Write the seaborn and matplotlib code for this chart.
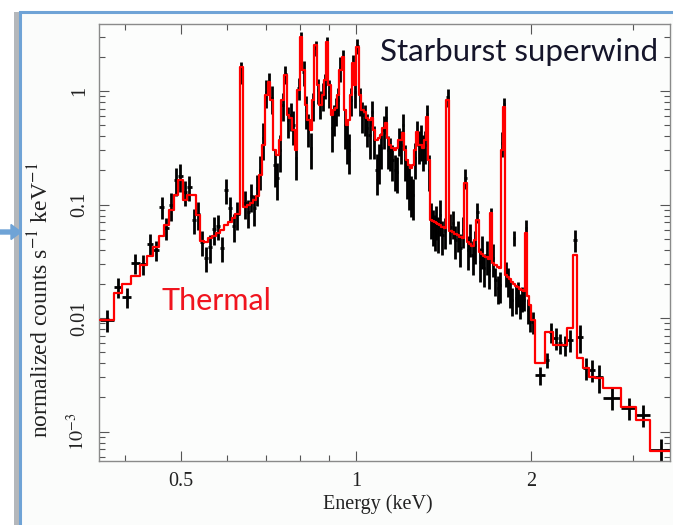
import numpy as np
import seaborn as sns
import matplotlib
matplotlib.use("Agg")
import matplotlib.pyplot as plt
from matplotlib.ticker import FixedLocator, FixedFormatter, NullFormatter, LogLocator
from matplotlib.patches import Rectangle, FancyArrow

# Spectral bins (keV edges), folded model and measured spectrum
energy_edges = [
    0.362, 0.383, 0.396, 0.410, 0.424, 0.436, 0.447, 0.458, 0.467, 0.476,
    0.485, 0.494, 0.503, 0.512, 0.521, 0.530, 0.539, 0.548, 0.557, 0.566,
    0.575, 0.584, 0.593, 0.602, 0.611, 0.620, 0.630, 0.640,
    0.648, 0.656, 0.664, 0.672, 0.680, 0.688, 0.696, 0.704, 0.712, 0.720,
    0.728, 0.736, 0.744, 0.752, 0.760, 0.768, 0.776, 0.784, 0.792, 0.800,
    0.808, 0.816, 0.824, 0.832, 0.840, 0.848, 0.856, 0.864, 0.872, 0.880,
    0.888, 0.896, 0.904, 0.912, 0.920, 0.928, 0.936, 0.944, 0.952, 0.960,
    0.968, 0.976, 0.984, 0.992, 1.000,
    1.01, 1.02, 1.03, 1.04, 1.05, 1.06, 1.07, 1.08, 1.09, 1.10,
    1.11, 1.12, 1.13, 1.14, 1.15, 1.16, 1.17, 1.18, 1.19, 1.20,
    1.21, 1.22, 1.23, 1.24, 1.25, 1.26, 1.27, 1.28, 1.29, 1.30,
    1.31, 1.32, 1.33, 1.34, 1.35, 1.36, 1.37, 1.38, 1.39, 1.40,
    1.415, 1.430, 1.445, 1.460, 1.475, 1.490, 1.505, 1.520, 1.535, 1.550,
    1.565, 1.580, 1.595, 1.610, 1.625, 1.640, 1.655, 1.670, 1.685, 1.700,
    1.715, 1.730, 1.745, 1.760, 1.775, 1.790, 1.805, 1.820, 1.835, 1.850,
    1.865, 1.880, 1.895, 1.910, 1.925, 1.940, 1.955, 1.970, 1.985, 2.000,
    2.030, 2.115, 2.150, 2.185, 2.225, 2.265, 2.305, 2.360, 2.400, 2.460,
    2.520, 2.580, 2.660, 2.860, 3.030, 3.200, 3.500,
]

model_flux = [
    # 0.36-0.64 keV
    0.00960, 0.0166, 0.0199, 0.0234, 0.0293, 0.0352, 0.0422, 0.0528, 0.0660, 0.0894,
    0.121, 0.164, 0.110, 0.121, 0.121, 0.0808, 0.0477, 0.0467, 0.0507, 0.0528,
    0.0561, 0.0596, 0.0660, 0.0701, 0.0760, 0.0825, 1.63,
    # 0.64-0.80 keV
    0.0951, 0.0990, 0.1031, 0.110, 0.1186, 0.182, 0.334, 0.922, 1.200, 0.833,
    0.302, 0.273, 0.370, 0.833, 1.383, 0.614, 0.578, 0.453, 0.302, 1.020,
    # 0.80-1.00 keV
    2.990, 1.531, 0.753, 0.555, 0.453, 0.833, 2.543, 1.129, 0.753, 0.922,
    1.250, 2.702, 1.129, 0.614, 0.680, 0.708, 0.922, 1.531, 1.994, 0.680,
    0.502, 0.555, 0.922, 1.765, 1.129,
    # 1.00-1.40 keV
    2.442, 0.922, 0.680, 0.653, 0.578, 0.555, 0.578, 0.453, 0.370, 0.385,
    0.410, 0.472, 0.523, 0.385, 0.334, 0.3145, 0.302, 0.3145, 0.370, 0.370,
    0.427, 0.302, 0.247, 0.223, 0.2093, 0.223, 0.302, 0.435, 0.334, 0.334,
    0.3145, 0.370, 0.590, 0.247, 0.0730, 0.0715, 0.0701, 0.0687, 0.0674, 0.0660,
    # 1.40-2.00 keV
    0.0634, 0.0620, 0.833, 0.0590, 0.0572, 0.0550, 0.0539, 0.0517, 0.0507, 0.155,
    0.0468, 0.0449, 0.0431, 0.0487, 0.0730, 0.0381, 0.0366, 0.0352, 0.0345, 0.0331,
    0.0841, 0.0305, 0.0293, 0.0281, 0.0276, 0.302, 0.723, 0.0240, 0.0230, 0.0220,
    0.0207, 0.0199, 0.0191, 0.0187, 0.0180, 0.0176, 0.0172, 0.0561, 0.0156, 0.0130,
    # 2.0-3.5 keV
    0.00960, 0.00401, 0.00753, 0.00753, 0.00578, 0.00578, 0.00578, 0.00816, 0.0359, 0.00444,
    0.00363, 0.00302, 0.00296, 0.00242, 0.00164, 0.00126, 0.000673,
]

data_flux = [
    0.00960, 0.0187, 0.0153, 0.0305, 0.0299, 0.0449, 0.0397, 0.0950, 0.0621, 0.0990,
    0.164, 0.178, 0.129, 0.143, 0.0730, 0.0825, 0.0467, 0.0338, 0.0422, 0.0608,
    0.0646, 0.0414, 0.134, 0.0931, 0.0646, 0.0825, 1.47,
    0.1031, 0.0859, 0.1186, 0.0931, 0.1395, 0.201, 0.385, 0.980, 1.200, 0.867,
    0.223, 0.171, 0.302, 0.753, 1.411, 0.555, 0.614, 0.502, 0.257, 1.062,
    2.814, 1.470, 0.680, 0.472, 0.3145, 0.753, 2.392, 1.020, 0.784, 0.922,
    1.129, 2.543, 0.980, 0.472, 0.578, 0.680, 0.833, 1.594, 1.994, 0.502,
    0.370, 0.302, 0.833, 1.765, 0.980,
    2.492, 0.833, 0.614, 0.578, 0.472, 0.410, 0.653, 0.370, 0.201, 0.247,
    0.3145, 0.453, 0.578, 0.302, 0.290, 0.247, 0.201, 0.193, 0.370, 0.334,
    0.502, 0.247, 0.182, 0.149, 0.1287, 0.121, 0.257, 0.435, 0.334, 0.370,
    0.302, 0.334, 0.627, 0.201, 0.0760, 0.0660, 0.0596, 0.0730, 0.0572, 0.0808,
    0.0539, 0.0580, 0.885, 0.0640, 0.0687, 0.0487, 0.0550, 0.0413, 0.0596, 0.171,
    0.0397, 0.0507, 0.0359, 0.0440, 0.0859, 0.0311, 0.0397, 0.0276, 0.0359, 0.0265,
    0.0792, 0.0337, 0.0216, 0.0183, 0.0195, 0.348, 0.768, 0.0250, 0.0215, 0.0169,
    0.0144, 0.0507, 0.0150, 0.0166, 0.0130, 0.0150, 0.0144, 0.0621, 0.0117, 0.0100,
    0.00922, 0.00315, 0.00427, 0.00753, 0.00666, 0.00602, 0.00578, 0.00640, 0.0487, 0.00680,
    0.00363, 0.00348, 0.00302, 0.00197, 0.00161, 0.00140, 0.000687,
]

data_rel_err = [
    0.22, 0.20, 0.20, 0.20, 0.20, 0.22, 0.20, 0.22, 0.22, 0.28,
    0.28, 0.28, 0.25, 0.25, 0.25, 0.28, 0.25, 0.25, 0.28, 0.28,
    0.25, 0.25, 0.25, 0.25, 0.28, 0.28, 0.22,
    0.28, 0.28, 0.28, 0.30, 0.30, 0.33, 0.36, 0.28, 0.20, 0.28,
    0.36, 0.36, 0.36, 0.28, 0.18, 0.30, 0.28, 0.33, 0.36, 0.22,
    0.18, 0.25, 0.32, 0.32, 0.35, 0.28, 0.15, 0.25, 0.28, 0.27,
    0.25, 0.18, 0.27, 0.38, 0.30, 0.28, 0.28, 0.25, 0.15, 0.38,
    0.38, 0.38, 0.28, 0.18, 0.27,
    0.15, 0.27, 0.30, 0.30, 0.32, 0.38, 0.25, 0.32, 0.40, 0.38,
    0.35, 0.32, 0.28, 0.32, 0.32, 0.35, 0.35, 0.35, 0.28, 0.32,
    0.25, 0.35, 0.38, 0.40, 0.40, 0.40, 0.35, 0.25, 0.32, 0.35,
    0.35, 0.32, 0.20, 0.35, 0.35, 0.35, 0.35, 0.33, 0.35, 0.35,
    0.33, 0.30, 0.18, 0.30, 0.27, 0.32, 0.30, 0.32, 0.30, 0.20,
    0.33, 0.32, 0.33, 0.32, 0.20, 0.33, 0.32, 0.32, 0.33, 0.32,
    0.18, 0.32, 0.28, 0.28, 0.30, 0.25, 0.13, 0.25, 0.28, 0.28,
    0.27, 0.15, 0.27, 0.25, 0.25, 0.25, 0.20, 0.18, 0.25, 0.25,
    0.22, 0.18, 0.15, 0.20, 0.22, 0.20, 0.20, 0.22, 0.22, 0.28,
    0.22, 0.22, 0.28, 0.22, 0.22, 0.22, 0.25,
]

x_major = [0.5, 1, 2]
x_major_labels = ["0.5", "1", "2"]
x_minor = [0.4, 0.6, 0.7, 0.8, 0.9, 3]
y_major = [1e-3, 1e-2, 0.1, 1]
y_major_labels = [r"$10^{-3}$", "0.01", "0.1", "1"]

sns.set_theme(style="ticks")
plt.rcParams["font.family"] = ["Liberation Serif", "DejaVu Serif"]
plt.rcParams["mathtext.fontset"] = "stix"

W, H = 673, 525
fig = plt.figure(figsize=(W / 100, H / 100), dpi=100)
fig.patch.set_facecolor("white")

# slide panel with its shadow and pointer arrow, kept behind the axes
fig.patches.append(Rectangle((14 / W, 0), 5 / W, 1 - 12 / H, transform=fig.transFigure,
                             facecolor="#b4b7bb", edgecolor="none", zorder=-3))
fig.patches.append(Rectangle((20 / W, -0.05), 1.0, 1.05 - 12 / H, transform=fig.transFigure,
                             facecolor="#fbfcfb", edgecolor="#6fa3d6", linewidth=2.2, zorder=-2))
fig.patches.append(FancyArrow(0, 1 - 232 / H, 21 / W, 0, width=4 / H, head_width=15 / H,
                              head_length=10 / W, length_includes_head=True,
                              transform=fig.transFigure, color="#6fa3d6", zorder=-1))

ax = fig.add_axes([99 / W, 1 - 461 / H, (670 - 99) / W, (461 - 24) / H])
ax.set_zorder(2)
ax.set_facecolor("#fcfdfc")

edges = np.array(energy_edges)
lo, hi = edges[:-1], edges[1:]
centre = np.sqrt(lo * hi)
flux = np.array(data_flux)
yerr = flux * np.array(data_rel_err)

ax.errorbar(centre, flux, xerr=[centre - lo, hi - centre], yerr=yerr,
            fmt="none", ecolor="black", elinewidth=2.0, capsize=0, zorder=2)

sns.lineplot(x=edges, y=np.append(model_flux, model_flux[-1]), drawstyle="steps-post",
             color="#ff0000", linewidth=1.6, estimator=None, sort=False, ax=ax, zorder=3)

ax.set_xscale("log")
ax.set_yscale("log")
ax.set_xlim(0.361, 3.47)
ax.set_ylim(5.5e-4, 3.9)

ax.xaxis.set_major_locator(FixedLocator(x_major))
ax.xaxis.set_major_formatter(FixedFormatter(x_major_labels))
ax.xaxis.set_minor_locator(FixedLocator(x_minor))
ax.xaxis.set_minor_formatter(NullFormatter())
ax.yaxis.set_major_locator(FixedLocator(y_major))
ax.yaxis.set_major_formatter(FixedFormatter(y_major_labels))
ax.yaxis.set_minor_locator(LogLocator(base=10, subs=np.arange(2, 10)))
ax.yaxis.set_minor_formatter(NullFormatter())

ax.tick_params(which="both", direction="in", top=True, right=True, color="#555555",
               width=0.8, labelsize=14.5, labelcolor="#222222")
ax.tick_params(which="major", length=7)
ax.tick_params(which="minor", length=4)
ax.tick_params(axis="y", labelrotation=90, pad=7)
ax.tick_params(axis="x", pad=8)
for lbl in ax.get_yticklabels():
    lbl.set_va("center")

for sp in ax.spines.values():
    sp.set_color("#8a8a8a")
    sp.set_linewidth(1.0)

ax.set_xlabel("Energy (keV)", fontsize=14.5, color="#222222")
ax.set_ylabel(r"normalized counts s$^{-1}$ keV$^{-1}$", fontsize=17, color="#222222")
ax.xaxis.set_label_coords((378 - 99) / (670 - 99), (461 - 494) / (461 - 24))
ax.yaxis.set_label_coords((53 - 99) / (670 - 99), (461 - 300) / (461 - 24))

fig.text(380 / W, 1 - 52 / H, "Starburst superwind", fontsize=22.5, family="Lato",
         color="#15152a", ha="left", va="center", zorder=5)
fig.text(216 / W, 1 - 301 / H, "Thermal", fontsize=22, family="Lato",
         color="#f0141e", ha="center", va="center", zorder=5)

fig.savefig("out.png", dpi=100)
